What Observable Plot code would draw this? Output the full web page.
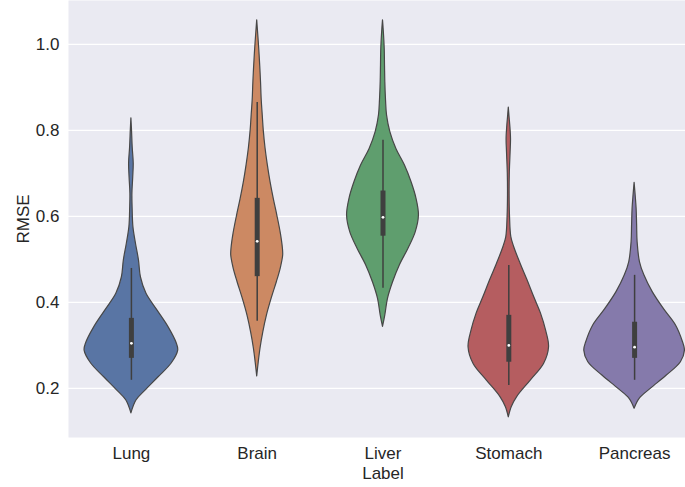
<!DOCTYPE html>
<html>
<head>
<meta charset="utf-8">
<script src="https://cdn.jsdelivr.net/npm/d3@7"></script>
<script src="https://cdn.jsdelivr.net/npm/@observablehq/plot@0.6"></script>
<style>
  html, body { margin: 0; padding: 0; background: #fff; }
  #chart { width: 685px; height: 487px; overflow: hidden; }
  svg { font-family: "Liberation Sans", Arial, sans-serif; }
</style>
</head>
<body>
<div id="chart"></div>
<script>
// Categories and colours
const categories = ["Lung", "Brain", "Liver", "Stomach", "Pancreas"];
const colors = ["#5975a4", "#cc8963", "#5f9e6e", "#b55d60", "#857aab"];
const yTicks = [0.2, 0.4, 0.6, 0.8, 1.0];

// Violin profiles: RMSE value and relative density (widest = 1)
const lungY = [0.142, 0.172, 0.195, 0.226, 0.258, 0.288, 0.305, 0.342, 0.381, 0.420, 0.458, 0.498, 0.537, 0.575, 0.620, 0.653, 0.690, 0.723, 0.760, 0.800, 0.828];
const lungD = [0, 0.10, 0.28, 0.54, 0.80, 0.93, 0.90, 0.74, 0.52, 0.30, 0.19, 0.15, 0.09, 0.04, 0.024, 0.02, 0.036, 0.046, 0.026, 0.012, 0];

const brainY = [0.228, 0.260, 0.293, 0.330, 0.370, 0.410, 0.447, 0.480, 0.509, 0.526, 0.560, 0.602, 0.640, 0.679, 0.720, 0.758, 0.800, 0.835, 0.870, 0.912, 0.950, 0.990, 1.030, 1.056];
const brainD = [0, 0.03, 0.066, 0.12, 0.194, 0.29, 0.39, 0.47, 0.516, 0.51, 0.47, 0.40, 0.33, 0.266, 0.21, 0.166, 0.13, 0.11, 0.09, 0.076, 0.06, 0.04, 0.016, 0];

const liverY = [0.343, 0.370, 0.409, 0.447, 0.486, 0.525, 0.563, 0.602, 0.641, 0.680, 0.719, 0.757, 0.796, 0.835, 0.870, 0.912, 0.950, 0.990, 1.030, 1.056];
const liverD = [0, 0.046, 0.10, 0.20, 0.334, 0.506, 0.65, 0.714, 0.666, 0.566, 0.434, 0.266, 0.146, 0.08, 0.06, 0.046, 0.04, 0.034, 0.016, 0];

const stomachY = [0.133, 0.157, 0.180, 0.219, 0.257, 0.296, 0.335, 0.374, 0.412, 0.451, 0.490, 0.529, 0.552, 0.600, 0.650, 0.700, 0.750, 0.780, 0.810, 0.835, 0.853];
const stomachD = [0, 0.06, 0.166, 0.44, 0.70, 0.80, 0.74, 0.64, 0.506, 0.374, 0.234, 0.106, 0.05, 0.024, 0.016, 0.02, 0.036, 0.044, 0.03, 0.012, 0];

const pancreasY = [0.153, 0.176, 0.199, 0.230, 0.261, 0.288, 0.308, 0.347, 0.385, 0.424, 0.463, 0.494, 0.540, 0.580, 0.618, 0.650, 0.678];
const pancreasD = [0, 0.10, 0.32, 0.64, 0.92, 1.0, 0.96, 0.82, 0.58, 0.36, 0.194, 0.106, 0.06, 0.05, 0.04, 0.02, 0];

// Inner box stats: lower whisker, Q1, median, Q3, upper whisker
const whiskerLo = [0.219, 0.356, 0.433, 0.207, 0.219];
const q1        = [0.270, 0.460, 0.554, 0.261, 0.270];
const medians   = [0.305, 0.542, 0.598, 0.300, 0.296];
const q3        = [0.363, 0.642, 0.659, 0.370, 0.354];
const whiskerHi = [0.479, 0.865, 0.777, 0.486, 0.463];

const profiles = [[lungY, lungD], [brainY, brainD], [liverY, liverD], [stomachY, stomachD], [pancreasY, pancreasD]];
const halfWidth = 0.4; // seaborn default violin width 0.8

const violinData = profiles.flatMap(([ys, ds], i) =>
  ys.map((y, k) => ({cat: i, y, d: ds[k]})));
const boxes = categories.map((c, i) => ({i, lo: whiskerLo[i], q1: q1[i], med: medians[i], q3: q3[i], hi: whiskerHi[i]}));

const edge = "#474747";
const textColor = "#262626";

const violinMarks = categories.map((c, i) =>
  Plot.areaX(violinData.filter(d => d.cat === i), {
    y: "y",
    x1: d => i - d.d * halfWidth,
    x2: d => i + d.d * halfWidth,
    fill: colors[i],
    stroke: edge,
    strokeWidth: 1.2,
    curve: "catmull-rom"
  }));

const chart = Plot.plot({
  width: 685,
  height: 487,
  marginLeft: 68,
  marginRight: -12,
  marginTop: 0,
  marginBottom: 50,
  style: {fontFamily: "'Liberation Sans', Arial, sans-serif", fontSize: "17px", background: "white", overflow: "hidden"},
  x: {domain: [-0.5, 4.5]},
  y: {domain: [0.086, 1.102]},
  marks: [
    Plot.frame({fill: "#eaeaf2", stroke: null}),
    Plot.gridY(yTicks, {stroke: "white", strokeOpacity: 1, strokeWidth: 1.3}),
    ...violinMarks,
    Plot.ruleX(boxes, {x: "i", y1: "lo", y2: "hi", stroke: "#3f3f3f", strokeWidth: 1.5}),
    Plot.ruleX(boxes, {x: "i", y1: "q1", y2: "q3", stroke: "#3f3f3f", strokeWidth: 5}),
    Plot.dot(boxes, {x: "i", y: "med", r: 1.4, fill: "white", stroke: null}),
    Plot.axisX({
      ticks: [0, 1, 2, 3, 4],
      tickFormat: i => categories[i],
      tickSize: 0,
      tickPadding: 9,
      fontSize: 17,
      color: textColor,
      label: "Label",
      labelAnchor: "center",
      labelArrow: "none",
      labelOffset: 41
    }),
    Plot.axisY({
      ticks: yTicks,
      tickFormat: d3.format(".1f"),
      tickSize: 0,
      tickPadding: 9,
      fontSize: 17,
      color: textColor,
      label: "RMSE",
      labelAnchor: "center",
      labelArrow: "none",
      labelOffset: 52
    })
  ]
});
document.getElementById("chart").appendChild(chart);
</script>
</body>
</html>
